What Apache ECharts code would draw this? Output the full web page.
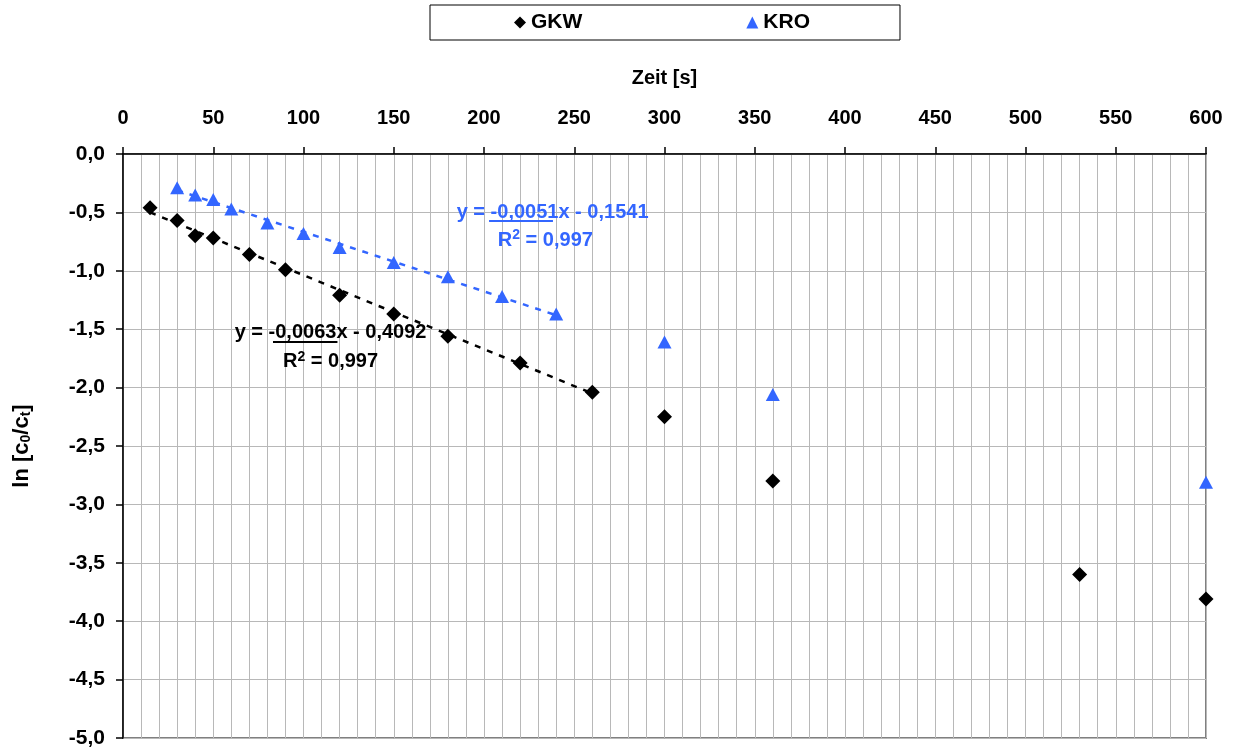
<!DOCTYPE html>
<html>
<head>
<meta charset="utf-8">
<script src="https://cdn.jsdelivr.net/npm/echarts@6/dist/echarts.min.js"></script>
<style>
html,body{margin:0;padding:0;background:#fff;}
#c{width:1235px;height:754px;}
</style>
</head>
<body>
<div id="c"></div>
<script>
// ---- data ----
const gkwX = [15, 30, 40, 50, 70, 90, 120, 150, 180, 220, 260, 300, 360, 530, 600];
const gkwY = [-0.46, -0.57, -0.70, -0.72, -0.86, -0.99, -1.21, -1.37, -1.56, -1.79, -2.04, -2.25, -2.80, -3.60, -3.81];
const kroX = [30, 40, 50, 60, 80, 100, 120, 150, 180, 210, 240, 300, 360, 600];
const kroY = [-0.29, -0.35, -0.39, -0.47, -0.59, -0.68, -0.80, -0.93, -1.05, -1.22, -1.37, -1.61, -2.06, -2.81];
// trendline end points (as drawn in the reference)
const gkwTrendX = [15, 260];
const gkwTrendY = [-0.50, -2.05];
const kroTrendX = [30, 240];
const kroTrendY = [-0.31, -1.38];
const gkwEq = ['y = -0,0063x - 0,4092', 'R{sup|2} = 0,997'];
const kroEq = ['y = -0,0051x - 0,1541', 'R{sup|2} = 0,997'];
const seriesNames = ['GKW', 'KRO'];
const xTitle = 'Zeit [s]';

const BLUE = '#3366FF';
const FONT = '"Liberation Sans", Arial, sans-serif';
const zip = (xs, ys) => xs.map((x, i) => [x, ys[i]]);

const chart = echarts.init(document.getElementById('c'));
const option = {
  animation: false,
  backgroundColor: '#fff',
  textStyle: { fontFamily: FONT },
  legend: {
    data: [
      { name: seriesNames[0], icon: 'diamond' },
      { name: seriesNames[1], icon: 'triangle' }
    ],
    left: 430, top: 5,
    padding: [7, 90, 7, 84],
    itemGap: 164,
    itemWidth: 12, itemHeight: 12,
    borderColor: '#000', borderWidth: 1,
    textStyle: { fontFamily: FONT, fontWeight: 'bold', fontSize: 21, color: '#000' }
  },
  grid: {
    left: 123, right: 29, top: 154, bottom: 16,
    show: true, borderColor: '#808080', borderWidth: 2, backgroundColor: 'transparent'
  },
  xAxis: {
    type: 'value', position: 'top', min: 0, max: 600, interval: 50,
    name: xTitle, nameLocation: 'middle', nameGap: 66,
    nameTextStyle: { fontFamily: FONT, fontWeight: 'bold', fontSize: 20, color: '#000' },
    axisLine: { show: true, lineStyle: { color: '#000', width: 1.5 } },
    axisTick: { show: true, inside: false, length: 7, lineStyle: { color: '#000', width: 1.5 } },
    axisLabel: { margin: 26, fontFamily: FONT, fontWeight: 'bold', fontSize: 20, color: '#000' },
    splitLine: { show: true, lineStyle: { color: '#b8b8b8', width: 1 } },
    minorTick: { show: false, splitNumber: 5 },
    minorSplitLine: { show: true, lineStyle: { color: '#b8b8b8', width: 1 } }
  },
  yAxis: {
    type: 'value', min: -5, max: 0, interval: 0.5,
    name: 'ln [c{s|0}/c{s|t}]', nameLocation: 'middle', nameRotate: 90, nameGap: 90,
    nameTextStyle: {
      fontFamily: FONT, fontWeight: 'bold', fontSize: 22, color: '#000',
      rich: {
        s: { fontFamily: FONT, fontWeight: 'bold', fontSize: 14, color: '#000', verticalAlign: 'bottom', padding: [8, 0, 0, 0] }
      }
    },
    axisLine: { show: true, lineStyle: { color: '#000', width: 1.5 } },
    axisTick: { show: true, inside: false, length: 7, lineStyle: { color: '#000', width: 1.5 } },
    axisLabel: {
      margin: 18, fontFamily: FONT, fontWeight: 'bold', fontSize: 21, color: '#000',
      formatter: v => v.toFixed(1).replace('.', ',')
    },
    splitLine: { show: true, lineStyle: { color: '#b8b8b8', width: 1 } }
  },
  series: [
    {
      name: 'GKW trend', type: 'line', data: zip(gkwTrendX, gkwTrendY),
      showSymbol: false, symbol: 'none', z: 2, silent: true,
      lineStyle: { color: '#000', width: 2.5, type: [6, 7] }
    },
    {
      name: 'KRO trend', type: 'line', data: zip(kroTrendX, kroTrendY),
      showSymbol: false, symbol: 'none', z: 2, silent: true,
      lineStyle: { color: BLUE, width: 2.5, type: [6, 7] }
    },
    {
      name: seriesNames[0], type: 'scatter', data: zip(gkwX, gkwY),
      symbol: 'diamond', symbolSize: 15, z: 5,
      itemStyle: { color: '#000', opacity: 1 }
    },
    {
      name: seriesNames[1], type: 'scatter', data: zip(kroX, kroY),
      symbol: 'triangle', symbolSize: [14, 13], z: 5,
      itemStyle: { color: BLUE, opacity: 1 }
    }
  ]
};
chart.setOption(option);

// equation annotations, anchored in data coordinates
function px(x, y) { return chart.convertToPixel({ gridIndex: 0 }, [x, y]); }
function txt(x, y, s, color) {
  const p = px(x, y);
  return { type: 'text', x: p[0], y: p[1], z: 10,
    style: { text: s, fill: color, font: 'bold 20px ' + FONT, textAlign: 'center', textVerticalAlign: 'middle',
      rich: { sup: { fill: color, font: 'bold 14px ' + FONT, verticalAlign: 'top', padding: [0, 0, 10, 0] } } } };
}
function uline(x1, x2, y, color) {
  const a = px(x1, y), b = px(x2, y);
  return { type: 'line', z: 10, shape: { x1: a[0], y1: a[1], x2: b[0], y2: b[1] }, style: { stroke: color, lineWidth: 2 } };
}
chart.setOption({
  graphic: [
    txt(238, -0.50, kroEq[0], BLUE),
    txt(234, -0.74, kroEq[1], BLUE),
    uline(202.8, 238.2, -0.574, BLUE),
    txt(115, -1.53, gkwEq[0], '#000'),
    txt(115, -1.78, gkwEq[1], '#000'),
    uline(83.1, 118.8, -1.61, '#000')
  ]
});
</script>
</body>
</html>
